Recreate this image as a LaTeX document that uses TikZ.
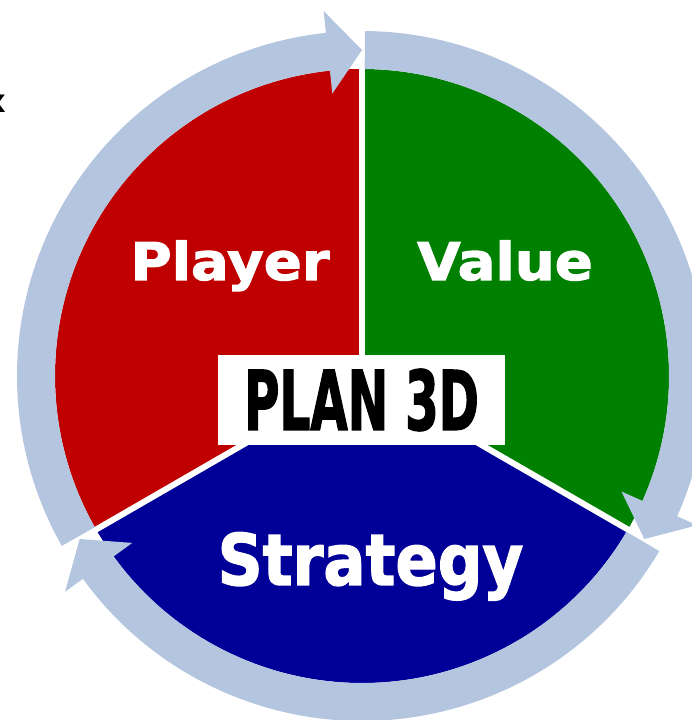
\documentclass[tikz,border=0pt]{standalone}
\usepackage{graphicx}
\usepackage{fontspec}
\setmainfont{DejaVu Sans}
\newfontfamily\heavyfont[BoldFeatures={FakeBold=2}]{DejaVu Sans}

\definecolor{ringblue}{RGB}{180,198,223}
\definecolor{playerred}{RGB}{192,0,0}
\definecolor{valuegreen}{RGB}{0,128,0}
\definecolor{strategyblue}{RGB}{0,0,153}

% ring arrow from tail angle #1 clockwise to tip angle #2
\newcommand{\ringarrow}[2]{%
  \fill[ringblue] (#1:307) arc[start angle=#1,end angle=#2+6,radius=307]
    -- (#2+6:284) -- (#2:326) -- (#2+6:367) -- (#2+6:345)
    arc[start angle=#2+6,end angle=#1,radius=345] -- cycle;}

\begin{document}
\begin{tikzpicture}[x=1pt,y=1pt,inner sep=0pt,outer sep=0pt,
sectorlabel/.style={text=white,anchor=base},
planbox/.style={fill=white,minimum width=287pt,minimum height=90pt}]

\useasboundingbox (0,0) rectangle (692,720);
\clip (0,0) rectangle (692,720);

\begin{scope}[shift={(362,344)}]
\fill[playerred] (0,0) -- (90:307) arc[start angle=90,end angle=210,radius=307] -- cycle;
\fill[valuegreen] (0,0) -- (-30:307) arc[start angle=-30,end angle=90,radius=307] -- cycle;
\fill[strategyblue] (0,0) -- (210:307) arc[start angle=210,end angle=330,radius=307] -- cycle;
\foreach \a in {90,210,330}
  \draw[white,line width=6pt] (0,0) -- (\a:308);

\ringarrow{89.5}{-30}
\ringarrow{-30.5}{-150}
\ringarrow{209.5}{90}
\end{scope}

\draw (230,440) node[sectorlabel,font=\fontsize{52}{60}\heavyfont\bfseries] (player) {\scalebox{1.08}[1]{Player}};
\draw (505,440) node[sectorlabel,font=\fontsize{52}{60}\heavyfont\bfseries] (value) {\scalebox{1.08}[1]{Value}};
\draw (370.5,135) node[sectorlabel,font=\fontsize{71}{80}\heavyfont\bfseries] (strategy) {\scalebox{0.88}[1]{Strategy}};
\draw (361.5,320) node[planbox,font=\fontsize{82}{90}\heavyfont\bfseries] (plan) {\scalebox{0.59}[1]{PLAN 3D}};

\draw (-4.5,607) node[anchor=base,font=\fontsize{32}{40}\bfseries] (mark) {x};

\end{tikzpicture}
\end{document}
